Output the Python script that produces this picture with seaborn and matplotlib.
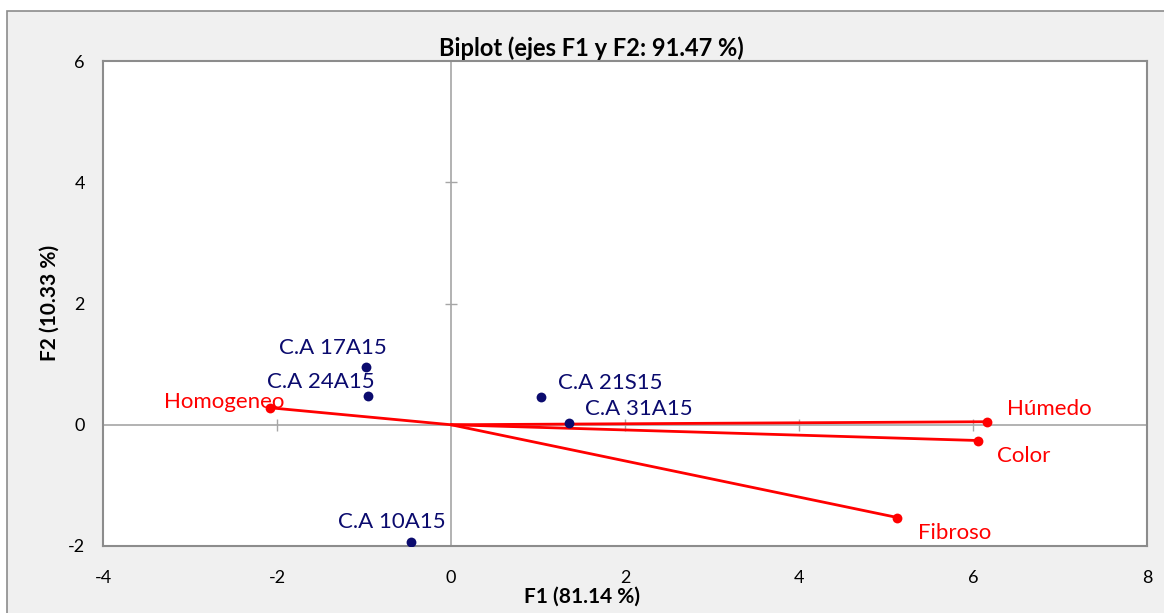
import matplotlib
matplotlib.use("Agg")
import matplotlib.pyplot as plt
import seaborn as sns
import pandas as pd
from matplotlib.patches import Rectangle

# ---- data ----
obs_names = ["C.A 17A15", "C.A 24A15", "C.A 21S15", "C.A 31A15", "C.A 10A15"]
obs_f1 = [-0.98, -0.95, 1.03, 1.36, -0.46]
obs_f2 = [0.96, 0.48, 0.46, 0.03, -1.93]

var_names = ["Homogeneo", "Húmedo", "Color", "Fibroso"]
var_f1 = [-2.08, 6.16, 6.06, 5.13]
var_f2 = [0.28, 0.05, -0.26, -1.53]

x_ticks = [-4, -2, 0, 2, 4, 6, 8]
y_ticks = [-2, 0, 2, 4, 6]

title = "Biplot (ejes F1 y F2: 91.47 %)"
xlabel = "F1 (81.14 %)"
ylabel = "F2 (10.33 %)"

# label offsets (points), styling only
obs_offsets = [(-24, 13), (-34, 9.5), (50, 10), (50, 10), (-14, 14)]
var_offsets = [(-33, 4), (45, 9), (33, -11.5), (41, -11)]

sns.set_theme(style="white")
plt.rcParams["font.family"] = ["Lato", "DejaVu Sans"]
plt.rcParams["axes.unicode_minus"] = False

NAVY = "#0b0b6e"
RED = "#ff0000"
GRAY = "#8c8c8c"

fig = plt.figure(figsize=(11.64, 6.13), dpi=100)
fig.patch.set_facecolor("white")
# chart area background with border
fig.patches.append(Rectangle((7 / 1164, -0.05), 1.1, 1 - 11 / 613 + 0.05,
                             transform=fig.transFigure, facecolor="#f0f0f0",
                             edgecolor=GRAY, linewidth=1.2, zorder=-10))

ax = fig.add_axes([103 / 1164, 1 - 546 / 613, (1147 - 103) / 1164, (546 - 61) / 613])
ax.set_facecolor("white")

ax.set_xlim(-4, 8)
ax.set_ylim(-2, 6)
ax.set_xticks(x_ticks)
ax.set_yticks(y_ticks)
ax.tick_params(axis="both", length=0, labelsize=13, colors="black")
ax.tick_params(axis="x", pad=17)
ax.tick_params(axis="y", pad=13)
for s in ax.spines.values():
    s.set_color(GRAY)
    s.set_linewidth(1.5)

# zero axes with small ticks
ax.axhline(0, color="#a6a6a6", lw=1.2, zorder=1)
ax.axvline(0, color="#a6a6a6", lw=1.2, zorder=1)
xin = [t for t in x_ticks[1:-1] if t != 0]
yin = [t for t in y_ticks[1:-1] if t != 0]
ax.plot(xin, [0] * len(xin), ls="none", marker="|", ms=9, mew=1,
        color="#a6a6a6", zorder=1)
ax.plot([0] * len(yin), yin, ls="none", marker="_", ms=9, mew=1,
        color="#a6a6a6", zorder=1)

# variable vectors
rows = []
for n, x, y in zip(var_names, var_f1, var_f2):
    rows.append({"var": n, "order": 0, "F1": 0.0, "F2": 0.0})
    rows.append({"var": n, "order": 1, "F1": x, "F2": y})
vec = pd.DataFrame(rows)
sns.lineplot(data=vec, x="F1", y="F2", units="var", estimator=None, sort=False,
             color=RED, lw=2, ax=ax, zorder=3)
vdf = pd.DataFrame({"F1": var_f1, "F2": var_f2, "name": var_names})
sns.scatterplot(data=vdf, x="F1", y="F2", color=RED, s=50, edgecolor=RED,
                linewidth=0, ax=ax, zorder=4)

# observations
odf = pd.DataFrame({"F1": obs_f1, "F2": obs_f2, "name": obs_names})
sns.scatterplot(data=odf, x="F1", y="F2", color=NAVY, s=50, edgecolor=NAVY,
                linewidth=0, ax=ax, zorder=4)

for (n, x, y), off in zip(zip(obs_names, obs_f1, obs_f2), obs_offsets):
    ax.annotate(n, (x, y), xytext=off, textcoords="offset points",
                ha="center", va="center", color=NAVY, fontsize=16, zorder=5)
for (n, x, y), off in zip(zip(var_names, var_f1, var_f2), var_offsets):
    ax.annotate(n, (x, y), xytext=off, textcoords="offset points",
                ha="center", va="center", color=RED, fontsize=16, zorder=5)

ax.set_xlabel("")
ax.set_ylabel("")
fig.text(591 / 1164, 1 - 48 / 613, title, ha="center", va="center",
         fontsize=17, fontweight="bold", color="black")
fig.text(582 / 1164, 1 - 597 / 613, xlabel, ha="center", va="center",
         fontsize=15, fontweight="bold", color="black")
fig.text(50 / 1164, 1 - 303 / 613, ylabel, ha="center", va="center",
         rotation=90, fontsize=15, fontweight="bold", color="black")

fig.savefig("out.png", dpi=100)
